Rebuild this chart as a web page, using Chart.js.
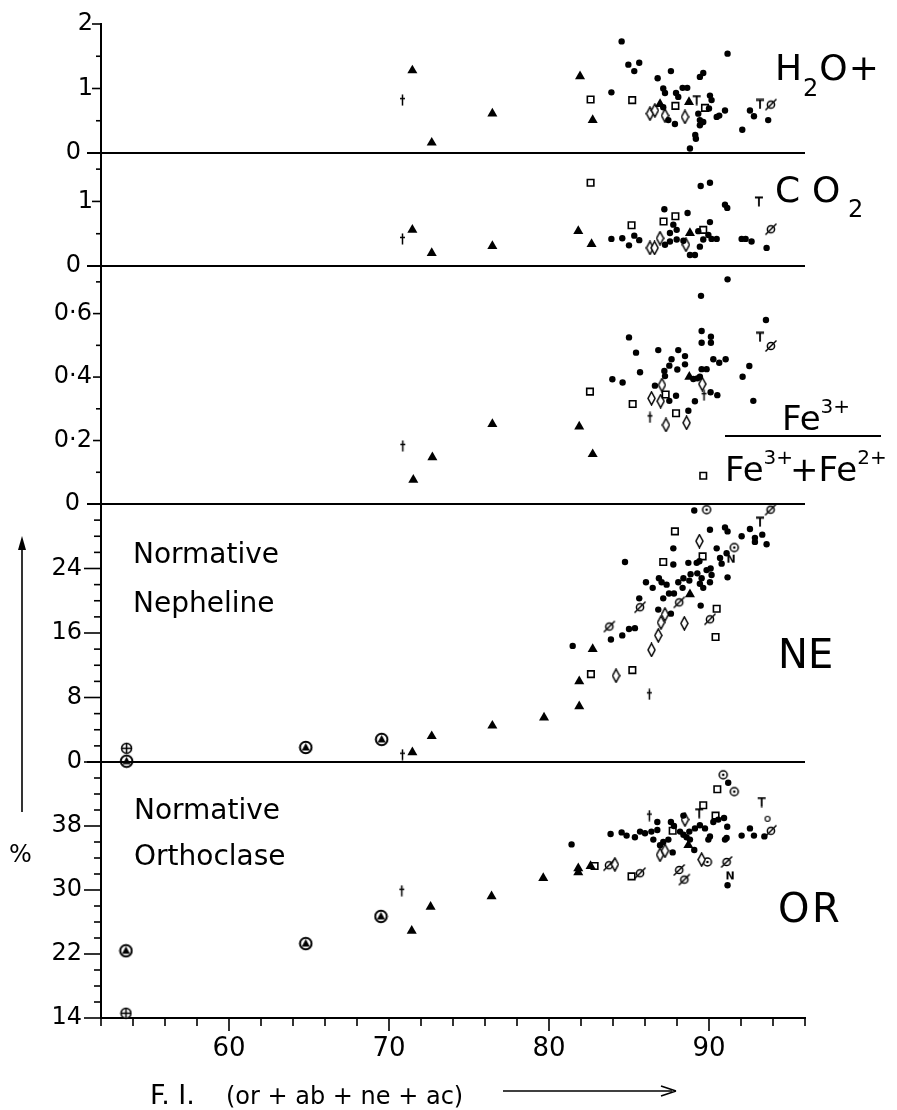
<!DOCTYPE html>
<html lang="en">
<head>
<meta charset="UTF-8">
<title>F.I. variation diagram</title>
<script src="https://cdn.jsdelivr.net/npm/chart.js"></script>
<style>
  body { margin: 0; background: #fff; }
  canvas { display: block; }
</style>
</head>
<body>
<canvas id="myChart" width="897" height="1110"></canvas>
<script>
// ---- axes ----
const xTicks = [52, 54, 56, 58, 60, 62, 64, 66, 68, 70, 72, 74, 76, 78, 80, 82, 84, 86, 88, 90, 92, 94, 96]
const xLabels = [60, 70, 80, 90]
const h2oTicks = [0, 0.5, 1, 1.5, 2]
const h2oLabels = [0, 1, 2]
const co2Ticks = [0, 0.5, 1, 1.5]
const co2Labels = [0, 1]
const feTicks = [0, 0.1, 0.2, 0.3, 0.4, 0.5, 0.6, 0.7]
const feLabels = [0, 0.2, 0.4, 0.6]
const neTicks = [0, 2, 4, 6, 8, 10, 12, 14, 16, 18, 20, 22, 24, 26, 28, 30, 32]
const neLabels = [0, 8, 16, 24]
const orTicks = [14, 16, 18, 20, 22, 24, 26, 28, 30, 32, 34, 36, 38, 40, 42, 44, 46]
const orLabels = [14, 22, 30, 38]

// ---- H2O+ ----
const h2oDot = [[83.9,0.94],[84.54,1.73],[84.96,1.37],[85.64,1.40],[85.33,1.27],[86.79,1.16],[87.62,1.27],[89.43,1.18],[89.64,1.24],[91.16,1.54],[87.14,1.0],[87.25,0.93],[87.94,0.93],[88.35,1.01],[88.64,1.01],[88.08,0.87],[90.06,0.89],[90.16,0.82],[90.0,0.69],[91.0,0.66],[90.64,0.58],[90.48,0.56],[87.14,0.71],[87.46,0.51],[87.87,0.45],[89.33,0.61],[89.43,0.51],[89.64,0.48],[89.43,0.43],[89.14,0.28],[89.18,0.22],[88.81,0.07],[92.08,0.36],[92.56,0.66],[92.81,0.57],[93.7,0.51]]
const h2oTri = [[71.46,1.28],[72.67,0.16],[76.46,0.61],[81.94,1.19],[82.73,0.51],[86.94,0.76],[88.75,0.79]]
const h2oSq = [[82.6,0.83],[85.2,0.82],[87.9,0.73],[89.75,0.70]]
const h2oDia = [[86.31,0.61],[86.62,0.66],[88.5,0.56],[87.25,0.58]]
const h2oCross = [[70.84,0.82]]
const h2oTee = [[89.23,0.82],[93.19,0.76]]
const h2oSlash = [[93.87,0.75]]

// ---- CO2 ----
const co2Dot = [[83.9,0.42],[84.58,0.43],[85.0,0.32],[85.33,0.47],[85.64,0.40],[87.21,0.88],[88.66,0.82],[89.48,1.24],[90.06,1.29],[91.0,0.95],[91.14,0.9],[87.77,0.64],[87.56,0.51],[87.98,0.56],[90.06,0.68],[89.96,0.48],[87.25,0.33],[87.56,0.38],[87.98,0.41],[88.4,0.39],[88.81,0.17],[89.12,0.17],[89.43,0.30],[89.64,0.41],[90.16,0.42],[90.48,0.42],[89.33,0.54],[92.04,0.42],[92.29,0.42],[92.66,0.38],[93.6,0.28]]
const co2Tri = [[71.46,0.56],[72.67,0.20],[76.46,0.31],[81.83,0.54],[82.66,0.34],[88.81,0.51]]
const co2Sq = [[82.6,1.29],[85.16,0.63],[87.16,0.69],[87.9,0.77],[89.64,0.56]]
const co2Dia = [[86.31,0.28],[86.6,0.28],[86.94,0.43],[88.56,0.33]]
const co2Cross = [[70.84,0.42]]
const co2Tee = [[93.12,1.0]]
const co2Slash = [[93.87,0.57]]

// ---- Fe3+/(Fe3+ + Fe2+) ----
const feDot = [[83.96,0.393],[84.6,0.383],[85.0,0.525],[85.44,0.477],[85.69,0.415],[86.83,0.485],[88.08,0.485],[87.66,0.456],[88.5,0.466],[87.52,0.436],[87.21,0.419],[87.25,0.403],[88.02,0.424],[88.5,0.44],[86.62,0.373],[87.52,0.325],[87.94,0.341],[88.71,0.294],[89.12,0.324],[89.02,0.394],[89.27,0.396],[89.54,0.425],[89.85,0.425],[89.43,0.401],[90.1,0.352],[90.52,0.343],[89.54,0.545],[90.12,0.527],[90.12,0.508],[89.54,0.508],[89.5,0.656],[91.16,0.708],[90.27,0.456],[90.64,0.445],[91.04,0.456],[92.52,0.435],[92.1,0.401],[92.77,0.325],[93.56,0.58]]
const feTri = [[71.52,0.076],[72.71,0.147],[76.46,0.252],[81.89,0.244],[82.73,0.157],[88.77,0.401]]
const feSq = [[82.56,0.354],[85.23,0.315],[87.29,0.345],[87.94,0.286],[89.64,0.089]]
const feDia = [[87.06,0.375],[86.41,0.333],[86.98,0.324],[87.31,0.249],[88.6,0.256],[89.58,0.378]]
const feCross = [[70.86,0.183],[86.31,0.273],[89.69,0.343]]
const feTee = [[93.19,0.527]]
const feSlash = [[93.87,0.498]]

// ---- NE ----
const neDot = [[81.48,14.4],[83.87,15.2],[84.58,15.7],[85.0,16.5],[85.37,16.6],[85.64,20.3],[84.75,24.8],[86.06,22.3],[86.48,21.6],[86.87,22.8],[87.04,22.3],[87.35,22.0],[87.14,20.3],[87.5,20.9],[87.81,20.9],[86.83,18.9],[87.62,18.4],[88.08,22.3],[88.4,22.8],[88.35,21.6],[88.77,22.5],[87.77,26.5],[87.77,24.5],[89.08,31.2],[90.06,28.8],[88.71,24.7],[89.23,24.7],[89.4,24.9],[88.85,23.3],[89.27,23.4],[89.54,22.8],[89.85,23.8],[90.1,24.0],[89.43,22.1],[89.64,21.6],[90.16,23.2],[90.06,22.3],[90.48,26.5],[91.0,29.1],[91.16,28.6],[90.69,25.3],[90.79,24.6],[91.1,25.9],[91.16,22.9],[89.48,19.4],[92.04,28.0],[92.56,28.9],[92.87,27.8],[92.87,27.3],[93.33,28.2],[93.6,27.0]]
const neTri = [[71.46,1.2],[72.67,3.2],[76.46,4.5],[79.69,5.5],[81.89,6.9],[81.89,10.0],[82.73,14.0],[88.81,20.8]]
const neSq = [[82.62,10.9],[85.21,11.4],[87.14,24.8],[87.87,28.6],[89.6,25.5],[90.48,19.0],[90.41,15.5]]
const neDia = [[84.19,10.7],[86.41,13.9],[86.83,15.7],[87.0,17.3],[87.25,18.3],[88.46,17.2],[89.4,27.4]]
const neCross = [[70.84,0.9],[86.27,8.4]]
const neSlash = [[83.77,16.8],[85.69,19.2],[88.14,19.8],[90.06,17.7],[93.85,31.3]]
const neTee = [[93.19,29.8]]
const neOdot = [[89.85,31.3],[91.58,26.6]]
const neOtri = [[53.6,0.1],[64.8,1.8],[69.54,2.8]]
const neOplus = [[53.6,1.7]]
const neZed = [[91.37,25.1]]

// ---- OR ----
const orDot = [[81.41,35.7],[83.85,37.0],[84.54,37.2],[84.85,36.8],[85.37,36.6],[85.69,37.3],[86.0,37.1],[86.77,38.5],[86.4,37.3],[86.52,36.3],[86.77,37.5],[86.94,35.6],[87.14,36.0],[87.46,36.3],[87.73,34.7],[87.62,38.5],[87.81,38.0],[88.4,39.3],[88.19,37.3],[88.4,36.9],[88.77,37.3],[88.6,36.6],[89.08,35.0],[88.81,36.3],[89.12,37.7],[89.75,37.7],[89.43,38.1],[90.27,38.5],[90.58,38.8],[90.94,39.0],[89.96,36.3],[90.06,36.7],[91.14,37.9],[91.0,36.3],[91.1,36.5],[91.2,43.4],[92.04,36.8],[92.56,37.7],[92.81,36.8],[93.46,36.7],[91.16,30.6]]
const orTri = [[71.42,24.9],[72.6,27.9],[76.41,29.2],[79.64,31.5],[81.83,32.7],[81.83,32.2],[82.6,33.0],[88.71,35.6]]
const orSq = [[82.85,33.0],[85.16,31.7],[87.73,37.4],[89.64,40.6],[90.41,39.3],[90.52,42.6]]
const orDia = [[84.12,33.2],[86.94,34.4],[87.25,34.9],[88.5,38.8],[89.54,33.8]]
const orCross = [[70.8,29.9],[86.27,39.3]]
const orSlash = [[83.75,33.1],[85.69,32.1],[88.14,32.5],[88.46,31.3],[91.1,33.5],[93.87,37.4]]
const orTee = [[89.39,39.6],[93.29,41.0]]
const orOdot = [[90.89,44.4],[91.58,42.3],[89.9,33.5]]
const orOtri = [[53.56,22.4],[64.8,23.3],[69.5,26.7]]
const orOplus = [[53.56,14.6]]
const orRing = [[93.66,38.9]]
const orZed = [[91.31,31.7]]

const FONT = '"DejaVu Sans"'

// small symbol sprites used as point styles
function sprite(w, h, draw) {
  const c = document.createElement('canvas')
  c.width = w
  c.height = h
  const g = c.getContext('2d')
  g.strokeStyle = '#000'
  g.fillStyle = '#000'
  g.lineWidth = 1.5
  draw(g, w / 2, h / 2)
  return c
}
const diamond = sprite(9, 15, (g, cx, cy) => {
  g.beginPath(); g.moveTo(cx, 1); g.lineTo(8, cy); g.lineTo(cx, 14); g.lineTo(1, cy); g.closePath()
  g.fillStyle = '#fff'; g.fill(); g.stroke()
})
const dagger = sprite(7, 12, (g, cx) => {
  g.beginPath(); g.moveTo(cx, 0.5); g.lineTo(cx, 11.5); g.moveTo(1, 4.5); g.lineTo(6, 4.5); g.stroke()
})
const slashed = sprite(14, 14, (g, cx, cy) => {
  g.beginPath(); g.arc(cx, cy, 3.6, 0, 2 * Math.PI); g.fillStyle = '#fff'; g.fill(); g.stroke()
  g.beginPath(); g.moveTo(1.5, 12.5); g.lineTo(12.5, 1.5); g.stroke()
})
const tee = sprite(10, 11, (g, cx) => {
  g.lineWidth = 1.8
  g.beginPath(); g.moveTo(1, 1.5); g.lineTo(9, 1.5); g.moveTo(cx, 1.5); g.lineTo(cx, 10.5); g.stroke()
})
const odot = sprite(12, 12, (g, cx, cy) => {
  g.beginPath(); g.arc(cx, cy, 4, 0, 2 * Math.PI); g.fillStyle = '#fff'; g.fill(); g.stroke()
  g.fillStyle = '#000'; g.beginPath(); g.arc(cx, cy, 1.3, 0, 2 * Math.PI); g.fill()
})
const oplus = sprite(13, 13, (g, cx, cy) => {
  g.beginPath(); g.arc(cx, cy, 5, 0, 2 * Math.PI); g.fillStyle = '#fff'; g.fill(); g.stroke()
  g.beginPath(); g.moveTo(cx - 5, cy); g.lineTo(cx + 5, cy); g.moveTo(cx, cy - 5); g.lineTo(cx, cy + 5); g.stroke()
})
const otri = sprite(15, 15, (g, cx, cy) => {
  g.lineWidth = 2
  g.beginPath(); g.arc(cx, cy, 5.8, 0, 2 * Math.PI); g.fillStyle = '#fff'; g.fill(); g.stroke()
  g.fillStyle = '#000'
  g.beginPath(); g.moveTo(cx, cy - 4.5); g.lineTo(cx + 4, cy + 3); g.lineTo(cx - 4, cy + 3); g.closePath(); g.fill()
})
const ring = sprite(8, 8, (g, cx, cy) => {
  g.lineWidth = 1.2
  g.beginPath(); g.arc(cx, cy, 2.5, 0, 2 * Math.PI); g.stroke()
})
const zed = sprite(10, 12, (g, cx, cy) => {
  g.font = 'bold 11px ' + FONT; g.textAlign = 'center'; g.textBaseline = 'middle'
  g.fillText('N', cx, cy)
})

const marks = {
  dot: { pointStyle: 'circle', pointRadius: 3.2, pointBackgroundColor: '#000', pointBorderWidth: 0 },
  tri: { pointStyle: 'triangle', pointRadius: 5.8, pointBackgroundColor: '#000', pointBorderWidth: 0 },
  sq: { pointStyle: 'rect', pointRadius: 4.6, pointBackgroundColor: '#fff', pointBorderColor: '#000', pointBorderWidth: 1.6 },
  dia: { pointStyle: diamond, pointRadius: 6 },
  cross: { pointStyle: dagger, pointRadius: 5 },
  slash: { pointStyle: slashed, pointRadius: 6 },
  tee: { pointStyle: tee, pointRadius: 5 },
  odot: { pointStyle: odot, pointRadius: 5 },
  oplus: { pointStyle: oplus, pointRadius: 6 },
  otri: { pointStyle: otri, pointRadius: 6 },
  ring: { pointStyle: ring, pointRadius: 3 },
  zed: { pointStyle: zed, pointRadius: 5 }
}

function series(data, mark, axis) {
  return Object.assign({
    data: data.map(p => ({ x: p[0], y: p[1] })),
    yAxisID: axis,
    clip: false
  }, marks[mark])
}

const datasets = [
  series(h2oDot, 'dot', 'yH'), series(h2oTri, 'tri', 'yH'), series(h2oSq, 'sq', 'yH'), series(h2oDia, 'dia', 'yH'),
  series(h2oCross, 'cross', 'yH'), series(h2oTee, 'tee', 'yH'), series(h2oSlash, 'slash', 'yH'),
  series(co2Dot, 'dot', 'yC'), series(co2Tri, 'tri', 'yC'), series(co2Sq, 'sq', 'yC'), series(co2Dia, 'dia', 'yC'),
  series(co2Cross, 'cross', 'yC'), series(co2Tee, 'tee', 'yC'), series(co2Slash, 'slash', 'yC'),
  series(feDot, 'dot', 'yF'), series(feTri, 'tri', 'yF'), series(feSq, 'sq', 'yF'), series(feDia, 'dia', 'yF'),
  series(feCross, 'cross', 'yF'), series(feTee, 'tee', 'yF'), series(feSlash, 'slash', 'yF'),
  series(neDot, 'dot', 'yN'), series(neTri, 'tri', 'yN'), series(neSq, 'sq', 'yN'), series(neDia, 'dia', 'yN'),
  series(neCross, 'cross', 'yN'), series(neSlash, 'slash', 'yN'), series(neTee, 'tee', 'yN'), series(neOdot, 'odot', 'yN'),
  series(neOtri, 'otri', 'yN'), series(neOplus, 'oplus', 'yN'), series(neZed, 'zed', 'yN'),
  series(orDot, 'dot', 'yO'), series(orTri, 'tri', 'yO'), series(orSq, 'sq', 'yO'), series(orDia, 'dia', 'yO'),
  series(orCross, 'cross', 'yO'), series(orSlash, 'slash', 'yO'), series(orTee, 'tee', 'yO'), series(orOdot, 'odot', 'yO'),
  series(orOtri, 'otri', 'yO'), series(orOplus, 'oplus', 'yO'), series(orRing, 'ring', 'yO'), series(orZed, 'zed', 'yO')
]

// panel layout, top to bottom (weight = stacking order, stackWeight = height)
const panels = [
  { id: 'yH', min: 0, max: 2, ticks: h2oTicks, labels: h2oLabels, h: 129, order: 5, major: 9, minor: 5, pad: 8 },
  { id: 'yC', min: 0, max: 1.75, ticks: co2Ticks, labels: co2Labels, h: 113, order: 4, major: 9, minor: 5, pad: 8 },
  { id: 'yF', min: 0, max: 0.75, ticks: feTicks, labels: feLabels, h: 238, order: 3, major: 8, minor: 5, pad: 9 },
  { id: 'yN', min: 0, max: 32, ticks: neTicks, labels: neLabels, h: 258, order: 2, major: 17, minor: 7, pad: 19 },
  { id: 'yO', min: 14, max: 46, ticks: orTicks, labels: orLabels, h: 256, order: 1, major: 17, minor: 7, pad: 19 }
]

const scales = {
  x: {
    type: 'linear', position: 'bottom', min: 52, max: 96,
    afterBuildTicks: s => { s.ticks = xTicks.map(v => ({ value: v })) },
    afterFit: s => { s.height = 92; s.paddingLeft = 0; s.paddingRight = 0 },
    grid: { display: false, drawTicks: false },
    border: { display: true, color: '#000', width: 2 },
    ticks: {
      autoSkip: false, maxRotation: 0, padding: 16, color: '#000',
      font: { family: 'DejaVu Sans', size: 26 },
      callback: v => xLabels.includes(v) ? String(v) : ''
    }
  }
}
panels.forEach(p => {
  scales[p.id] = {
    type: 'linear', position: 'left', stack: 'fi', stackWeight: p.h, weight: p.order,
    min: p.min, max: p.max,
    afterBuildTicks: s => { s.ticks = p.ticks.map(v => ({ value: v })) },
    afterFit: s => { s.width = 101; s.paddingTop = 0; s.paddingBottom = 0 },
    grid: { display: false, drawTicks: false },
    border: { display: true, color: '#000', width: 2 },
    ticks: {
      autoSkip: false, padding: p.pad, color: '#000',
      font: { family: 'DejaVu Sans', size: 24 },
      callback: v => {
        if (!p.labels.includes(v)) return ''
        if (v === 0 && p.pad < 12) return '0\u2002'
        return String(v).replace('.', '\u00b7')
      }
    }
  }
})

function seg(ctx, x1, y1, x2, y2) {
  ctx.beginPath(); ctx.moveTo(x1, y1); ctx.lineTo(x2, y2); ctx.stroke()
}
function txt(ctx, s, x, y, size) {
  ctx.font = size + 'px ' + FONT
  ctx.fillText(s, x, y)
  return x + ctx.measureText(s).width
}

const decor = {
  id: 'decor',
  afterDraw(chart) {
    const ctx = chart.ctx
    const a = chart.chartArea
    ctx.save()
    ctx.strokeStyle = '#000'
    ctx.fillStyle = '#000'
    // base line of each upper panel
    ctx.lineWidth = 2
    ;['yH', 'yC', 'yF', 'yN'].forEach(id => {
      const py = chart.scales[id].getPixelForValue(0)
      seg(ctx, a.left - 14, py, a.right, py)
    })
    // tick marks
    ctx.lineWidth = 1.6
    panels.forEach(p => {
      const s = chart.scales[p.id]
      p.ticks.forEach(v => {
        const py = s.getPixelForValue(v)
        const len = p.labels.includes(v) ? p.major : p.minor
        seg(ctx, a.left - len, py, a.left, py)
      })
    })
    const sx = chart.scales.x
    xTicks.forEach(v => {
      const px = sx.getPixelForValue(v)
      seg(ctx, px, a.bottom, px, a.bottom + (xLabels.includes(v) ? 13 : 8))
    })

    // panel names
    ctx.textBaseline = 'alphabetic'
    let x = 775
    x = txt(ctx, 'H', x, 80, 36)
    x = txt(ctx, '2', x + 1, 96, 24)
    x = txt(ctx, 'O', x + 1, 80, 36)
    txt(ctx, '+', x + 1, 80, 36)

    txt(ctx, 'C', 775, 202, 36)
    txt(ctx, 'O', 812, 202, 36)
    txt(ctx, '2', 848, 217, 24)

    x = txt(ctx, 'Fe', 782, 430, 34)
    txt(ctx, '3+', x, 413, 20)
    ctx.lineWidth = 2
    seg(ctx, 725, 436, 881, 436)
    x = txt(ctx, 'Fe', 725, 481, 34)
    x = txt(ctx, '3+', x, 464, 20)
    x = txt(ctx, '+', x - 3, 481, 34)
    x = txt(ctx, 'Fe', x, 481, 34)
    txt(ctx, '2+', x, 464, 20)

    txt(ctx, 'NE', 778, 668, 40)
    txt(ctx, 'O', 778, 922, 40)
    txt(ctx, 'R', 812, 922, 40)

    txt(ctx, 'Normative', 133, 563, 28)
    txt(ctx, 'Nepheline', 133, 612, 28)
    txt(ctx, 'Normative', 134, 819, 28)
    txt(ctx, 'Orthoclase', 134, 865, 28)

    // y title: % with upward arrow
    txt(ctx, '%', 9, 862, 24)
    ctx.lineWidth = 1.6
    seg(ctx, 22, 812, 22, 540)
    ctx.beginPath(); ctx.moveTo(22, 536); ctx.lineTo(18, 550); ctx.lineTo(26, 550); ctx.closePath(); ctx.fill()

    // x title with arrow
    txt(ctx, 'F. I.', 150, 1104, 27)
    txt(ctx, '(or + ab + ne + ac)', 226, 1104, 24)
    seg(ctx, 503, 1091, 672, 1091)
    ctx.beginPath(); ctx.moveTo(676, 1091); ctx.lineTo(661, 1086); ctx.moveTo(676, 1091); ctx.lineTo(661, 1096); ctx.stroke()
    ctx.restore()
  }
}

const chart = new Chart(document.getElementById('myChart'), {
  type: 'scatter',
  data: { datasets },
  options: {
    responsive: false,
    animation: false,
    layout: { padding: { top: 24, right: 92, bottom: 0, left: 0 } },
    scales,
    plugins: { legend: { display: false }, tooltip: { enabled: false } }
  },
  plugins: [decor]
})
</script>
</body>
</html>
